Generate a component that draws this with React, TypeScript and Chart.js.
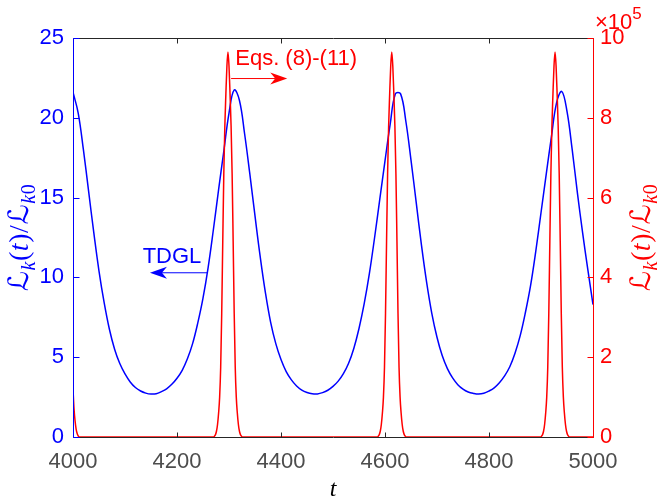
import React, { useEffect, useRef } from "react";
import { Chart, registerables } from "chart.js";

Chart.register(...registerables);

// ---- data ----
const blueT: number[] = [
  4000, 4010, 4020, 4030, 4040, 4050, 4060, 4070, 4080, 4090,
  4100, 4110, 4120, 4130, 4140, 4150, 4160, 4170, 4180, 4190,
  4200, 4210, 4220, 4230, 4240, 4250, 4260, 4270, 4280, 4290,
  4300, 4310, 4320, 4330, 4340, 4350, 4360, 4370, 4380, 4390,
  4400, 4410, 4420, 4430, 4440, 4450, 4460, 4470, 4480, 4490,
  4500, 4510, 4520, 4530, 4540, 4550, 4560, 4570, 4580, 4590,
  4600, 4610, 4620, 4630, 4640, 4650, 4660, 4670, 4680, 4690,
  4700, 4710, 4720, 4730, 4740, 4750, 4760, 4770, 4780, 4790,
  4800, 4810, 4820, 4830, 4840, 4850, 4860, 4870, 4880, 4890,
  4900, 4910, 4920, 4930, 4940, 4950, 4960, 4970, 4980, 4990,
  5000,
];
const blueV: number[] = [
  21.6, 20.3, 18.0, 15.4, 12.8, 10.4, 8.4, 6.75, 5.5, 4.6,
  3.95, 3.45, 3.1, 2.88, 2.75, 2.69, 2.71, 2.84, 3.02, 3.3,
  3.68, 4.18, 4.9, 5.85, 7.15, 8.7, 10.65, 13.0, 15.5, 17.9,
  20.3, 21.75, 21.1, 19.0, 16.5, 13.85, 11.3, 9.05, 7.2, 5.85,
  4.85, 4.1, 3.58, 3.2, 2.94, 2.79, 2.71, 2.7, 2.78, 2.93,
  3.17, 3.5, 3.97, 4.62, 5.55, 6.8, 8.35, 10.25, 12.5, 14.9,
  17.3, 19.6, 21.5, 21.5, 19.8, 17.35, 14.7, 12.05, 9.7, 7.75,
  6.25, 5.1, 4.28, 3.7, 3.28, 3.0, 2.82, 2.73, 2.69, 2.74,
  2.88, 3.08, 3.4, 3.83, 4.4, 5.25, 6.35, 7.8, 9.5, 11.65,
  14.05, 16.45, 18.8, 20.95, 21.65, 20.4, 18.0, 15.3, 12.8, 10.5,
  8.3,
];

// red series, in units of 10^5
const RED_EXPONENT = 5;
const redT: number[] = [
  4000, 4002, 4004, 4006, 4008, 4010, 4012,
  4270, 4272, 4274, 4276, 4278, 4280, 4282, 4284, 4286, 4288, 4290, 4292, 4294, 4296,
  4298, 4300, 4302, 4304, 4306, 4308, 4310, 4312, 4314, 4316, 4318, 4320, 4322, 4324, 4326,
  4585, 4587, 4589, 4591, 4593, 4595, 4597, 4599, 4601, 4603, 4605, 4607, 4609, 4611,
  4613, 4615, 4617, 4619, 4621, 4623, 4625, 4627, 4629, 4631, 4633, 4635, 4637, 4639, 4641,
  4899, 4901, 4903, 4905, 4907, 4909, 4911, 4913, 4915, 4917, 4919, 4921, 4923, 4925,
  4927, 4929, 4931, 4933, 4935, 4937, 4939, 4941, 4943, 4945, 4947, 4949, 4951, 4953, 4955,
  5000,
];
const redV: number[] = [
  1.2, 0.7, 0.4, 0.2, 0.09, 0.03, 0,
  0, 0.02, 0.06, 0.15, 0.32, 0.6, 1.0, 1.75, 3.1, 4.9, 6.6, 7.8, 8.6, 9.3,
  9.65, 9.3, 8.6, 7.8, 6.6, 4.9, 3.1, 1.75, 1.0, 0.6, 0.32, 0.15, 0.06, 0.02, 0,
  0, 0.02, 0.06, 0.15, 0.32, 0.6, 1.0, 1.75, 3.1, 4.9, 6.6, 7.8, 8.6, 9.3,
  9.65, 9.3, 8.6, 7.8, 6.6, 4.9, 3.1, 1.75, 1.0, 0.6, 0.32, 0.15, 0.06, 0.02, 0,
  0, 0.02, 0.06, 0.15, 0.32, 0.6, 1.0, 1.75, 3.1, 4.9, 6.6, 7.8, 8.6, 9.3,
  9.65, 9.3, 8.6, 7.8, 6.6, 4.9, 3.1, 1.75, 1.0, 0.6, 0.32, 0.15, 0.06, 0.02, 0,
  0,
];

const xTicks: number[] = [4000, 4200, 4400, 4600, 4800, 5000];
const yLeftTicks: number[] = [0, 5, 10, 15, 20, 25];
const yRightTicks: number[] = [0, 2, 4, 6, 8, 10];

const BLUE = "#0000ff";
const RED = "#ff0000";
const AXIS = "#262626";
const SANS = "'Liberation Sans', Arial, Helvetica, sans-serif";
const SERIF = "'Liberation Serif', 'DejaVu Serif', serif";
const SCRIPT = "'DejaVu Serif', 'DejaVu Sans', serif";

function drawArrow(ctx: CanvasRenderingContext2D, x0: number, y0: number, x1: number, y1: number, color: string) {
  const ang = Math.atan2(y1 - y0, x1 - x0);
  const L = 17, W = 6, back = 5;
  ctx.save();
  ctx.strokeStyle = color;
  ctx.fillStyle = color;
  ctx.lineWidth = 1;
  ctx.beginPath();
  ctx.moveTo(x0, y0);
  ctx.lineTo(x1 - Math.cos(ang) * (L - back), y1 - Math.sin(ang) * (L - back));
  ctx.stroke();
  ctx.translate(x1, y1);
  ctx.rotate(ang);
  ctx.beginPath();
  ctx.moveTo(0, 0);
  ctx.lineTo(-L, -W);
  ctx.lineTo(-L + back, 0);
  ctx.lineTo(-L, W);
  ctx.closePath();
  ctx.fill();
  ctx.restore();
}

function drawMathLabel(ctx: CanvasRenderingContext2D, cx: number, cy: number, color: string, size: number) {
  const sub = Math.round(size * 0.7);
  const segs = [
    { t: "\u2112", f: `${size}px ${SCRIPT}`, dy: 0 },
    { t: "k", f: `italic ${sub}px ${SERIF}`, dy: size * 0.22 },
    { t: "(", f: `${size}px ${SERIF}`, dy: 0 },
    { t: "t", f: `italic ${size}px ${SERIF}`, dy: 0 },
    { t: ")", f: `${size}px ${SERIF}`, dy: 0 },
    { t: "/", f: `${size}px ${SERIF}`, dy: 0 },
    { t: "\u2112", f: `${size}px ${SCRIPT}`, dy: 0 },
    { t: "k", f: `italic ${sub}px ${SERIF}`, dy: size * 0.22 },
    { t: "0", f: `${sub}px ${SERIF}`, dy: size * 0.22 },
  ];
  ctx.save();
  let total = 0;
  const widths = segs.map((s) => {
    ctx.font = s.f;
    const w = ctx.measureText(s.t).width + 0.6;
    total += w;
    return w;
  });
  ctx.translate(cx, cy);
  ctx.rotate(-Math.PI / 2);
  ctx.fillStyle = color;
  ctx.textBaseline = "alphabetic";
  ctx.textAlign = "left";
  let x = -total / 2;
  const base = size * 0.3;
  segs.forEach((s, i) => {
    ctx.font = s.f;
    ctx.fillText(s.t, x, base + s.dy);
    x += widths[i];
  });
  ctx.restore();
}

const decorPlugin = {
  id: "decor",
  afterDraw(chart: any) {
    const { ctx, chartArea: a, scales } = chart;
    const xs = scales.x, yl = scales.y, yr = scales.y1;
    ctx.save();
    const L = Math.round(a.left) + 0.5;
    const R = Math.round(a.right) + 0.5;
    const T = Math.round(a.top) + 0.5;
    const B = Math.round(a.bottom) + 0.5;
    ctx.lineWidth = 1;
    ctx.strokeStyle = AXIS;
    ctx.beginPath();
    ctx.moveTo(L, T); ctx.lineTo(R, T);
    ctx.moveTo(L, B); ctx.lineTo(R, B);
    ctx.stroke();
    ctx.beginPath();
    xTicks.forEach((v) => {
      const px = Math.round(xs.getPixelForValue(v)) + 0.5;
      ctx.moveTo(px, B); ctx.lineTo(px, B - 5);
      ctx.moveTo(px, T); ctx.lineTo(px, T + 5);
    });
    ctx.stroke();
    ctx.strokeStyle = BLUE;
    ctx.beginPath();
    ctx.moveTo(L, T); ctx.lineTo(L, B);
    yLeftTicks.forEach((v) => {
      const py = Math.round(yl.getPixelForValue(v)) + 0.5;
      ctx.moveTo(L, py); ctx.lineTo(L + 6, py);
    });
    ctx.stroke();
    ctx.strokeStyle = RED;
    ctx.beginPath();
    ctx.moveTo(R, T); ctx.lineTo(R, B);
    yRightTicks.forEach((v) => {
      const py = Math.round(yr.getPixelForValue(v)) + 0.5;
      ctx.moveTo(R, py); ctx.lineTo(R - 6, py);
    });
    ctx.stroke();

    // exponent label
    ctx.fillStyle = RED;
    ctx.textAlign = "left";
    ctx.textBaseline = "alphabetic";
    ctx.font = `22px ${SANS}`;
    const ex = a.right + 2;
    ctx.fillText("\u00d710", ex, 29);
    const w10 = ctx.measureText("\u00d710").width;
    ctx.font = `17px ${SANS}`;
    ctx.fillText(String(RED_EXPONENT), ex + w10, 19);

    // x title
    ctx.fillStyle = "#000000";
    ctx.font = `italic 24px ${SERIF}`;
    ctx.textAlign = "center";
    ctx.fillText("t", (a.left + a.right) / 2, 496);

    // y titles
    const cy = (a.top + a.bottom) / 2;
    drawMathLabel(ctx, 20, cy, BLUE, 28);
    drawMathLabel(ctx, 642, cy, RED, 28);

    // annotations
    ctx.textAlign = "left";
    ctx.font = `22px ${SANS}`;
    ctx.fillStyle = RED;
    ctx.fillText("Eqs. (8)-(11)", xs.getPixelForValue(4312), yl.getPixelForValue(23.3));
    drawArrow(ctx, xs.getPixelForValue(4304), yl.getPixelForValue(22.46), xs.getPixelForValue(4412), yl.getPixelForValue(22.46), RED);
    ctx.fillStyle = BLUE;
    ctx.fillText("TDGL", xs.getPixelForValue(4134), yl.getPixelForValue(10.9));
    drawArrow(ctx, xs.getPixelForValue(4258), yl.getPixelForValue(10.29), xs.getPixelForValue(4148), yl.getPixelForValue(10.29), BLUE);
    ctx.restore();
  },
};

export default function App() {
  const ref = useRef<HTMLCanvasElement | null>(null);
  useEffect(() => {
    document.body.style.margin = "0";
    const canvas = ref.current;
    if (!canvas) return;
    const chart = new Chart(canvas, {
      type: "line",
      data: {
        datasets: [
          {
            label: "Eqs. (8)-(11)",
            data: redT.map((t, i) => ({ x: t, y: redV[i] })),
            yAxisID: "y1",
            borderColor: RED,
            borderWidth: 1.5,
            pointRadius: 0,
            fill: false,
            cubicInterpolationMode: "monotone",
          },
          {
            label: "TDGL",
            data: blueT.map((t, i) => ({ x: t, y: blueV[i] })),
            yAxisID: "y",
            borderColor: BLUE,
            borderWidth: 1.5,
            pointRadius: 0,
            fill: false,
            tension: 0.4,
          },
        ],
      },
      options: {
        animation: false,
        responsive: false,
        devicePixelRatio: 1,
        layout: { padding: { top: 38, left: 0, right: 0, bottom: 0 } },
        plugins: { legend: { display: false }, tooltip: { enabled: false } },
        scales: {
          x: {
            type: "linear",
            min: 4000,
            max: 5000,
            afterBuildTicks: (s: any) => { s.ticks = xTicks.map((v) => ({ value: v })); },
            afterFit: (s: any) => { s.height = 65; },
            grid: { display: false, drawTicks: false },
            border: { display: false },
            ticks: {
              color: "#4d4d4d",
              font: { family: SANS, size: 22 },
              padding: 12,
              maxRotation: 0,
              autoSkip: false,
              callback: (v: any) => String(v),
            },
          },
          y: {
            type: "linear",
            position: "left",
            min: 0,
            max: 25,
            afterBuildTicks: (s: any) => { s.ticks = yLeftTicks.map((v) => ({ value: v })); },
            afterFit: (s: any) => { s.width = 73; },
            grid: { display: false, drawTicks: false },
            border: { display: false },
            ticks: { color: BLUE, font: { family: SANS, size: 22 }, padding: 9, callback: (v: any) => String(v) },
          },
          y1: {
            type: "linear",
            position: "right",
            min: 0,
            max: 10,
            afterBuildTicks: (s: any) => { s.ticks = yRightTicks.map((v) => ({ value: v })); },
            afterFit: (s: any) => { s.width = 64; },
            grid: { display: false, drawTicks: false },
            border: { display: false },
            ticks: { color: RED, font: { family: SANS, size: 22 }, padding: 7, callback: (v: any) => String(v) },
          },
        },
      },
      plugins: [decorPlugin],
    } as any);
    return () => chart.destroy();
  }, []);
  return (
    <div style={{ width: 657, height: 502 }}>
      <canvas ref={ref} width={657} height={502} style={{ display: "block" }} />
    </div>
  );
}
